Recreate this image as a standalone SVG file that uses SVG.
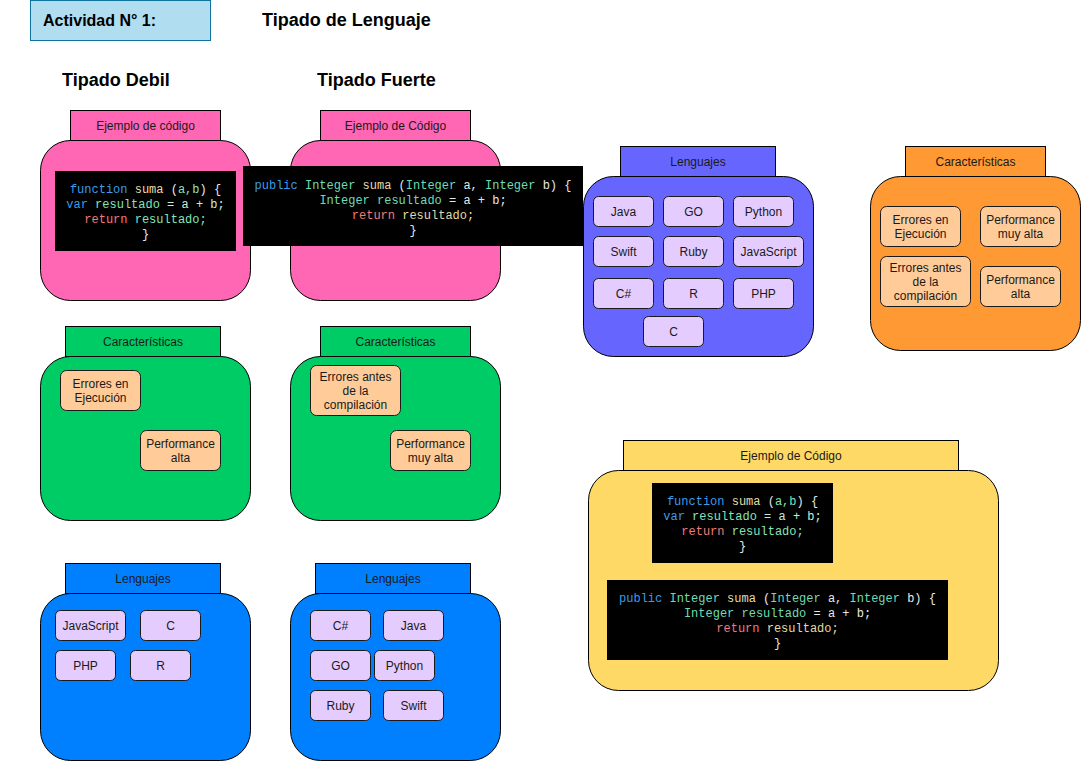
<svg xmlns="http://www.w3.org/2000/svg" width="1081" height="761" viewBox="0 0 1081 761">
<style>
.lbl{font-family:"Liberation Sans",Arial,sans-serif;font-size:12px;fill:#1a1a1a;text-anchor:middle}
.h{font-family:"Liberation Sans",Arial,sans-serif;font-weight:bold;fill:#000}
.box{stroke:#000;stroke-width:1}
.it{fill:#e5ccff;stroke:#1a1a1a;stroke-width:1}
.ft{fill:#ffcc99;stroke:#1a1a1a;stroke-width:1}
.code{fill:#000}
.ct{font-family:"Liberation Mono","Courier New",monospace;font-size:12px;fill:#e8e8e8;text-anchor:middle;white-space:pre}
.kw{fill:#3d9be9}
.ty{fill:#6fdcb4}
.fn{fill:#e3dca6}
.rt{fill:#f47a7a}
.vr{fill:#86e3b8}
.lt{fill:#c8ecd6}
.pink{fill:#ff66b3}
.purple{fill:#6666ff}
.orange{fill:#ff9933}
.green{fill:#00cc66}
.blue{fill:#007fff}
.yellow{fill:#ffd966}
</style>

<g id="header">
<rect x="30.5" y="0.5" width="180" height="40" fill="#b1ddf0" stroke="#10739e"/>
<text class="h" x="43" y="26" font-size="16">Actividad N° 1:</text>
</g>
<g id="title"><text class="h" x="262" y="26" font-size="18">Tipado de Lenguaje</text></g>
<g id="debil-title"><text class="h" x="62" y="86" font-size="18">Tipado Debil</text></g>
<g id="fuerte-title"><text class="h" x="317" y="86" font-size="18">Tipado Fuerte</text></g>

<!-- Pink 1 -->
<g id="ejemplo-debil">
<rect class="box pink" x="70.5" y="110.5" width="150" height="30"/>
<rect class="box pink" x="40.5" y="140.5" width="210" height="160" rx="30"/>
<text class="lbl" x="145.5" y="130">Ejemplo de código</text>
<rect class="code" x="55" y="171" width="181" height="80"/>
<text class="ct" x="145.5" y="193"><tspan class="kw">function</tspan> <tspan class="fn">suma</tspan> (<tspan class="vr">a,b</tspan>) {</text>
<text class="ct" x="145.5" y="208"><tspan class="kw">var</tspan> <tspan class="vr">resultado</tspan> <tspan class="lt">= a + b;</tspan></text>
<text class="ct" x="145.5" y="223"><tspan class="rt">return</tspan> <tspan class="vr">resultado;</tspan></text>
<text class="ct" x="145.5" y="238">}</text>
</g>

<!-- Pink 2 -->
<g id="ejemplo-fuerte">
<rect class="box pink" x="320.5" y="110.5" width="150" height="30"/>
<rect class="box pink" x="290.5" y="140.5" width="210" height="160" rx="30"/>
<text class="lbl" x="395.5" y="130">Ejemplo de Código</text>
<rect class="code" x="243" y="166" width="340" height="80"/>
<text class="ct" x="413" y="189"><tspan class="kw">public</tspan> <tspan class="ty">Integer</tspan> <tspan class="fn">suma</tspan> (<tspan class="ty">Integer</tspan> a, <tspan class="ty">Integer</tspan> b) {</text>
<text class="ct" x="413" y="204"><tspan class="ty">Integer resultado</tspan> = a + b;</text>
<text class="ct" x="413" y="219"><tspan class="rt">return</tspan> <tspan class="fn">resultado;</tspan></text>
<text class="ct" x="413" y="234">}</text>
</g>

<!-- Purple Lenguajes -->
<g id="lenguajes-todos">
<rect class="box purple" x="620.5" y="146.5" width="155" height="30"/>
<rect class="box purple" x="583.5" y="176.5" width="230" height="180" rx="30"/>
<text class="lbl" x="698" y="166">Lenguajes</text>
<rect class="it" x="593.5" y="196.5" width="60" height="30" rx="5"/><text class="lbl" x="623.5" y="216">Java</text>
<rect class="it" x="663.5" y="196.5" width="60" height="30" rx="5"/><text class="lbl" x="693.5" y="216">GO</text>
<rect class="it" x="733.5" y="196.5" width="60" height="30" rx="5"/><text class="lbl" x="763.5" y="216">Python</text>
<rect class="it" x="593.5" y="236.5" width="60" height="30" rx="5"/><text class="lbl" x="623.5" y="256">Swift</text>
<rect class="it" x="663.5" y="236.5" width="60" height="30" rx="5"/><text class="lbl" x="693.5" y="256">Ruby</text>
<rect class="it" x="733.5" y="236.5" width="70" height="30" rx="5"/><text class="lbl" x="768.5" y="256">JavaScript</text>
<rect class="it" x="593.5" y="278.5" width="60" height="30" rx="5"/><text class="lbl" x="623.5" y="298">C#</text>
<rect class="it" x="663.5" y="278.5" width="60" height="30" rx="5"/><text class="lbl" x="693.5" y="298">R</text>
<rect class="it" x="733.5" y="278.5" width="60" height="30" rx="5"/><text class="lbl" x="763.5" y="298">PHP</text>
<rect class="it" x="643.5" y="316.5" width="60" height="30" rx="5"/><text class="lbl" x="673.5" y="336">C</text>
</g>

<!-- Orange Caracteristicas -->
<g id="caracteristicas-todas">
<rect class="box orange" x="905.5" y="146.5" width="140" height="30"/>
<rect class="box orange" x="870.5" y="176.5" width="210" height="174" rx="30"/>
<text class="lbl" x="975.5" y="166">Características</text>
<rect class="ft" x="880.5" y="206.5" width="80" height="40" rx="6"/>
<text class="lbl" x="920.5" y="224">Errores en</text><text class="lbl" x="920.5" y="238">Ejecución</text>
<rect class="ft" x="980.5" y="206.5" width="80" height="40" rx="6"/>
<text class="lbl" x="1020.5" y="224">Performance</text><text class="lbl" x="1020.5" y="238">muy alta</text>
<rect class="ft" x="880.5" y="256.5" width="90" height="50" rx="6"/>
<text class="lbl" x="925.5" y="272">Errores antes</text><text class="lbl" x="925.5" y="286">de la</text><text class="lbl" x="925.5" y="300">compilación</text>
<rect class="ft" x="980.5" y="266.5" width="80" height="40" rx="6"/>
<text class="lbl" x="1020.5" y="284">Performance</text><text class="lbl" x="1020.5" y="298">alta</text>
</g>

<!-- Green 1 -->
<g id="caracteristicas-debil">
<rect class="box green" x="65.5" y="326.5" width="155" height="30"/>
<rect class="box green" x="40.5" y="356.5" width="210" height="164" rx="30"/>
<text class="lbl" x="143" y="346">Características</text>
<rect class="ft" x="60.5" y="370.5" width="80" height="40" rx="6"/>
<text class="lbl" x="100.5" y="388">Errores en</text><text class="lbl" x="100.5" y="402">Ejecución</text>
<rect class="ft" x="140.5" y="430.5" width="80" height="40" rx="6"/>
<text class="lbl" x="180.5" y="448">Performance</text><text class="lbl" x="180.5" y="462">alta</text>
</g>

<!-- Green 2 -->
<g id="caracteristicas-fuerte">
<rect class="box green" x="320.5" y="326.5" width="150" height="30"/>
<rect class="box green" x="290.5" y="356.5" width="210" height="164" rx="30"/>
<text class="lbl" x="395.5" y="346">Características</text>
<rect class="ft" x="310.5" y="365.5" width="90" height="50" rx="6"/>
<text class="lbl" x="355.5" y="381">Errores antes</text><text class="lbl" x="355.5" y="395">de la</text><text class="lbl" x="355.5" y="409">compilación</text>
<rect class="ft" x="390.5" y="430.5" width="80" height="40" rx="6"/>
<text class="lbl" x="430.5" y="448">Performance</text><text class="lbl" x="430.5" y="462">muy alta</text>
</g>

<!-- Blue 1 -->
<g id="lenguajes-debil">
<rect class="box blue" x="65.5" y="563.5" width="155" height="30"/>
<rect class="box blue" x="40.5" y="593.5" width="210" height="167" rx="30"/>
<text class="lbl" x="143" y="583">Lenguajes</text>
<rect class="it" x="55.5" y="610.5" width="70" height="30" rx="5"/><text class="lbl" x="90.5" y="630">JavaScript</text>
<rect class="it" x="140.5" y="610.5" width="60" height="30" rx="5"/><text class="lbl" x="170.5" y="630">C</text>
<rect class="it" x="55.5" y="650.5" width="60" height="30" rx="5"/><text class="lbl" x="85.5" y="670">PHP</text>
<rect class="it" x="130.5" y="650.5" width="60" height="30" rx="5"/><text class="lbl" x="160.5" y="670">R</text>
</g>

<!-- Blue 2 -->
<g id="lenguajes-fuerte">
<rect class="box blue" x="315.5" y="563.5" width="155" height="30"/>
<rect class="box blue" x="290.5" y="593.5" width="210" height="167" rx="30"/>
<text class="lbl" x="393" y="583">Lenguajes</text>
<rect class="it" x="310.5" y="610.5" width="60" height="30" rx="5"/><text class="lbl" x="340.5" y="630">C#</text>
<rect class="it" x="383.5" y="610.5" width="60" height="30" rx="5"/><text class="lbl" x="413.5" y="630">Java</text>
<rect class="it" x="310.5" y="650.5" width="60" height="30" rx="5"/><text class="lbl" x="340.5" y="670">GO</text>
<rect class="it" x="374.5" y="650.5" width="60" height="30" rx="5"/><text class="lbl" x="404.5" y="670">Python</text>
<rect class="it" x="310.5" y="690.5" width="60" height="30" rx="5"/><text class="lbl" x="340.5" y="710">Ruby</text>
<rect class="it" x="383.5" y="690.5" width="60" height="30" rx="5"/><text class="lbl" x="413.5" y="710">Swift</text>
</g>

<!-- Yellow -->
<g id="ejemplo-comparado">
<rect class="box yellow" x="623.5" y="440.5" width="335" height="30"/>
<rect class="box yellow" x="588.5" y="470.5" width="410" height="220" rx="30"/>
<text class="lbl" x="791" y="460">Ejemplo de Código</text>
<rect class="code" x="652" y="483" width="181" height="80"/>
<text class="ct" x="742.5" y="505"><tspan class="kw">function</tspan> <tspan class="fn">suma</tspan> (<tspan class="vr">a,b</tspan>) {</text>
<text class="ct" x="742.5" y="520"><tspan class="kw">var</tspan> <tspan class="vr">resultado</tspan> <tspan class="lt">= a + b;</tspan></text>
<text class="ct" x="742.5" y="535"><tspan class="rt">return</tspan> <tspan class="vr">resultado;</tspan></text>
<text class="ct" x="742.5" y="550">}</text>
<rect class="code" x="607" y="580" width="341" height="80"/>
<text class="ct" x="777.5" y="602"><tspan class="kw">public</tspan> <tspan class="ty">Integer</tspan> <tspan class="fn">suma</tspan> (<tspan class="ty">Integer</tspan> a, <tspan class="ty">Integer</tspan> b) {</text>
<text class="ct" x="777.5" y="617"><tspan class="ty">Integer resultado</tspan> = a + b;</text>
<text class="ct" x="777.5" y="632"><tspan class="rt">return</tspan> <tspan class="fn">resultado;</tspan></text>
<text class="ct" x="777.5" y="647">}</text>
</g>

<g id="connectors"></g>
</svg>
